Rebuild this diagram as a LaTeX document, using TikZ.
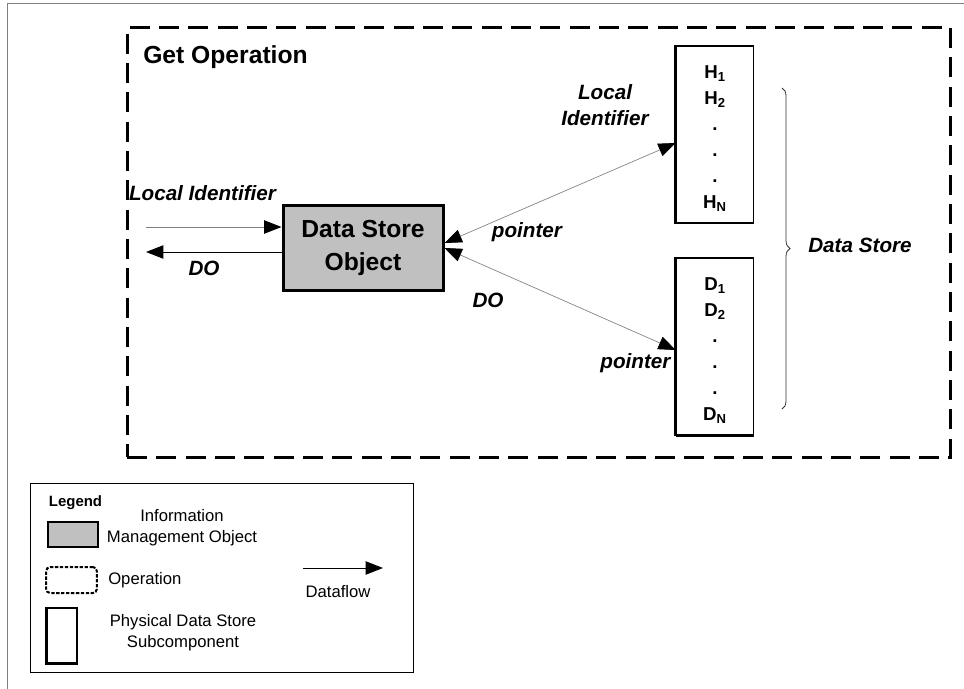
\documentclass[tikz,border=0pt]{standalone}
\usepackage{fontspec}
\setmainfont{Liberation Sans}
\usetikzlibrary{arrows.meta,calc,decorations.pathreplacing}
\definecolor{dsogray}{RGB}{192,192,192}

\begin{document}
\begin{tikzpicture}[x=0.75pt, y=-0.75pt,
		flow/.style={draw=gray, line width=0.75pt, -{Triangle[black, length=13pt, width=10pt]}},
		dflow/.style={draw=gray, line width=0.5pt, {Triangle[black, length=13pt, width=10pt]}-{Triangle[black, length=13pt, width=10pt]}},
		lbl/.style={font=\bfseries\itshape\fontsize{15.5}{19.5}\selectfont, align=center, inner sep=0pt},
		legtext/.style={font=\fontsize{12.5}{15.75}\selectfont, align=center, inner sep=0pt},
		storebox/.style={draw, line width=0.9pt, minimum width=58pt, minimum height=132.75pt, inner sep=0pt}]
		\useasboundingbox (0,0) rectangle (964,689);
		
		% Frame
		\draw[gray, line width=0.75pt] (7,689) -- (7,3) -- (964,3);
		
		% Operation
		\node[draw, line width=2.25pt, dash pattern=on 15pt off 7pt, minimum width=617.25pt, minimum height=322.5pt] (getop) at (538.5,242) {};
		\node[anchor=base west, inner sep=0pt, font=\bfseries\fontsize{18.5}{22}\selectfont] (title) at (143,63) {Get Operation};
		
		% Data Store Object
		\node[draw, fill=dsogray, line width=2.25pt, minimum width=120pt, minimum height=63.75pt, inner sep=0pt, align=center,
			font=\bfseries\fontsize{18.5}{24.75}\selectfont] (dso) at (363,247.5) {Data Store\\Object};
		
		% Input and output
		\coordinate (inL) at (146,227);
		\coordinate (outL) at (146,252);
		\draw[flow] (inL) -- (inL -| dso.west);
		\draw[flow, draw=black] (outL -| dso.west) -- (outL);
		\node[lbl] (lid) at (202.5,193) {Local Identifier};
		\node[lbl] (ldo) at (204,268) {DO};
		
		% Stores
		\foreach \s/\y in {H/134.5, D/346.5} {
			\node[storebox] (store\s) at (715,\y) {};
			\draw[line width=2.5pt] (store\s.north west) -- (store\s.south west);
			\node[inner sep=0pt, align=center, font=\bfseries\fontsize{14}{19.5}\selectfont] (items\s) at (715,\y+4)
				{\s\textsubscript{1}\\\s\textsubscript{2}\\.\\.\\.\\\s\textsubscript{N}};
		}
		\draw[line width=2pt] (storeD.south west) -- (storeD.south east);
		
		% Pointers
		\draw[dflow] ($(dso.east)+(0,-4.5)$) -- ($(storeH.west)+(0,8.5)$);
		\draw[dflow] ($(dso.east)+(0,0.5)$) -- ($(storeD.west)+(0,3.5)$);
		\node[lbl] (rlid) at (605,105) {Local\\Identifier};
		\node[lbl] (ptrH) at (527,232) {pointer};
		\node[lbl] (rdo) at (488,300) {DO};
		\node[lbl] (ptrD) at (635.5,363) {pointer};
		
		% Brace
		\coordinate (btop) at (782,88);
		\coordinate (bbot) at (782,409);
		\draw[gray!40!black, line width=0.6pt, decorate, decoration={brace, amplitude=6pt}] (btop) -- (bbot);
		\node[lbl] (dstore) at (860,245) {Data Store};
		
		% Legend
		\node[draw, line width=0.75pt, minimum width=287.25pt, minimum height=141.75pt] (legend) at (221.5,577.5) {};
		\node[inner sep=0pt, font=\bfseries\fontsize{11.2}{13}\selectfont] (legtitle) at (75.5,503) {Legend};
		\node[draw, fill=dsogray, line width=2pt, minimum width=37.5pt, minimum height=18.75pt, inner sep=0pt] (legimo) at (73,534.5) {};
		\node[legtext] (legimotext) at (182,527.5) {Information\\Management Object};
		\node[draw, dash pattern=on 2.5pt off 1.2pt, line width=1.5pt, rounded corners=3pt, minimum width=38pt, minimum height=19.5pt, inner sep=0pt] (legop) at (71.5,580) {};
		\node[legtext, anchor=west] (legoptext) at (108,580) {Operation};
		\node[draw, line width=1pt, minimum width=22.5pt, minimum height=41.25pt, inner sep=0pt] (legphys) at (62,635.5) {};
		\draw[line width=2.25pt] (legphys.north west) -- (legphys.south west) -- (legphys.south east);
		\node[legtext] (legphystext) at (183,632.5) {Physical Data Store\\Subcomponent};
		\coordinate (dfa) at (303,568);
		\coordinate (dfb) at (383,568);
		\draw[flow, draw=black] (dfa) -- (dfb);
		\node[legtext] (legflow) at (338,592) {Dataflow};
		
	\end{tikzpicture}
\end{document}
